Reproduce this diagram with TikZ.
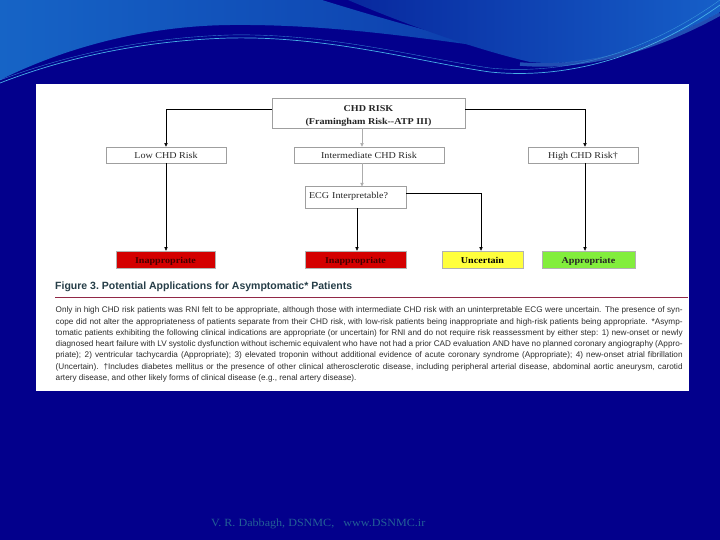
\documentclass[tikz,border=0pt]{standalone}
\usepackage{fontspec}
\setmainfont{Liberation Serif}
\setsansfont{Liberation Sans}
\newfontfamily\figfont[FakeStretch=1.12]{Liberation Serif}
\newfontfamily\footfont[FakeStretch=1.1]{Liberation Serif}
\usetikzlibrary{arrows.meta}
\definecolor{navy}{RGB}{3,0,140}
\definecolor{lightA}{RGB}{22,100,198}
\definecolor{lightB}{RGB}{12,60,172}
\definecolor{midA}{RGB}{8,40,158}
\definecolor{midB}{RGB}{22,95,200}
\definecolor{streak}{RGB}{70,175,230}
\definecolor{redbox}{RGB}{212,0,0}
\definecolor{redtext}{RGB}{70,0,0}
\definecolor{yelbox}{RGB}{255,255,60}
\definecolor{grnbox}{RGB}{130,238,60}
\definecolor{titlec}{RGB}{38,62,72}
\definecolor{rulec}{RGB}{145,40,70}
\definecolor{capc}{RGB}{45,45,45}
\definecolor{footc}{RGB}{35,95,150}
\begin{document}
\begin{tikzpicture}[x=1pt,y=-1pt,
  wbox/.style={draw=gray!75, line width=0.5pt, fill=white, inner sep=0pt,
    text=black!85, font=\figfont\fontsize{9}{13}\selectfont},
  obox/.style={draw=gray!60, line width=0.4pt, inner sep=0pt, minimum height=17pt,
    text height=7.6pt, text depth=0pt,
    font=\figfont\bfseries\fontsize{9}{10}\selectfont},
  arr/.style={-{Triangle[length=3.6pt,width=3.2pt]}, line width=0.6pt, draw=black},
  garr/.style={-{Triangle[length=3.6pt,width=3.2pt]}, line width=0.6pt, draw=gray!65},
  capline/.style={anchor=mid west, inner sep=0pt, text=capc,
    font=\sffamily\fontsize{8.2}{9}\selectfont}]
\useasboundingbox (0,0) rectangle (720,540);
% background
\fill[navy] (0,0) rectangle (720,540);
\shade[left color=lightA, right color=lightB]
  (0,0) -- (322,0) .. controls (380,18) and (450,38) .. (510,50)
  .. controls (420,38) and (330,24) .. (230,25)
  .. controls (140,26) and (60,50) .. (0,80) -- cycle;
\shade[left color=midA, right color=midB]
  (348,0) -- (720,0) -- (720,12) .. controls (660,45) and (590,68) .. (530,62)
  .. controls (470,48) and (400,22) .. (348,0) -- cycle;
\draw[line width=3.5pt, streak, opacity=0.45]
  (720,14) .. controls (660,47) and (590,70) .. (520,64);
\draw[line width=0.7pt, streak]
  (0,83) .. controls (80,52) and (160,40) .. (230,38)
  .. controls (330,36) and (420,62) .. (490,72)
  .. controls (570,80) and (650,55) .. (720,5);
\draw[line width=0.4pt, streak, opacity=0.7]
  (0,80) .. controls (80,50) and (160,37) .. (230,35)
  .. controls (330,33) and (420,58) .. (490,68)
  .. controls (570,76) and (650,50) .. (720,0);
% white panel
\fill[white] (36,84) rectangle (689,391);
% flowchart
\node[wbox, minimum width=193pt, minimum height=30pt,
  label={[align=center, inner sep=0pt, text=black!85, font=\figfont\bfseries\fontsize{9}{13}\selectfont, yshift=-3.5pt]center:{CHD RISK\\(Framingham Risk--ATP III)}}] (chd) at (368.5,113) {};
\node[wbox, minimum width=120pt, minimum height=16pt, text height=7pt, text depth=0pt] (low) at (166,155) {Low CHD Risk};
\node[wbox, minimum width=150pt, minimum height=16pt, text height=7pt, text depth=0pt] (inter) at (369,155) {Intermediate CHD Risk};
\node[wbox, minimum width=110pt, minimum height=16pt, text height=7pt, text depth=0pt] (high) at (583,155) {High CHD Risk\textdagger};
\node[wbox, minimum width=101pt, minimum height=21.5pt, text width=93pt, align=left,
  inner ysep=0pt] (ecg) at (355.5,197.5) {\raisebox{4pt}{ECG Interpretable?}};
\node[obox, fill=redbox, text=redtext, minimum width=99pt] (inap1) at (165.5,259.5) {Inappropriate};
\node[obox, fill=redbox, text=redtext, minimum width=101pt] (inap2) at (355.5,259.5) {Inappropriate};
\node[obox, fill=yelbox, text=black, minimum width=81pt] (unc) at (482.5,259.5) {Uncertain};
\node[obox, fill=grnbox, text=black!85, minimum width=93pt] (app) at (588.5,259.5) {Appropriate};
% connectors
\draw[arr] ([yshift=4pt]chd.west) -| (low.north);
\draw[arr] ([yshift=4pt]chd.east) -| ([xshift=2pt]high.north);
\draw[garr] ([xshift=-6.5pt]chd.south) -- ([xshift=-7pt]inter.north);
\draw[garr] ([xshift=-7pt]inter.south) -- ([xshift=6.5pt]ecg.north);
\draw[arr] (low.south) -- (low.south |- inap1.north);
\draw[arr] ([xshift=2pt]high.south) -- ([xshift=2pt]high.south |- app.north);
\draw[arr] ([xshift=1.5pt]ecg.south) -- ([xshift=1.5pt]inap2.north);
\draw[arr] ([yshift=4.5pt]ecg.east) -| ([xshift=-1.5pt]unc.north);
% title and rule
\node[anchor=base west, inner sep=0pt, text=titlec, font=\sffamily\bfseries\fontsize{10.5}{12}\selectfont]
  (title) at (55,289) {Figure 3.\ Potential Applications for Asymptomatic* Patients};
\coordinate (rl) at (55,297.5);
\coordinate (rr) at (688,297.5);
\draw[rulec, line width=0.8pt] (rl) -- (rr);
% caption
\node[capline] (c1) at (55.5,310.5) {\makebox[627pt][s]{Only in high CHD risk patients was RNI felt to be appropriate, although those with intermediate CHD risk with an uninterpretable ECG were uncertain. The presence of syn-}};
\node[capline] (c2) at (55.5,321.75) {\makebox[627pt][s]{cope did not alter the appropriateness of patients separate from their CHD risk, with low-risk patients being inappropriate and high-risk patients being appropriate. *Asymp-}};
\node[capline] (c3) at (55.5,333) {\makebox[627pt][s]{tomatic patients exhibiting the following clinical indications are appropriate (or uncertain) for RNI and do not require risk reassessment by either step: 1) new-onset or newly}};
\node[capline] (c4) at (55.5,344.25) {\makebox[627pt][s]{diagnosed heart failure with LV systolic dysfunction without ischemic equivalent who have not had a prior CAD evaluation AND have no planned coronary angiography (Appro-}};
\node[capline] (c5) at (55.5,355.5) {\makebox[627pt][s]{priate); 2) ventricular tachycardia (Appropriate); 3) elevated troponin without additional evidence of acute coronary syndrome (Appropriate); 4) new-onset atrial fibrillation}};
\node[capline] (c6) at (55.5,366.75) {\makebox[627pt][s]{(Uncertain). \textdagger Includes diabetes mellitus or the presence of other clinical atherosclerotic disease, including peripheral arterial disease, abdominal aortic aneurysm, carotid}};
\node[capline] (c7) at (55.5,378) {artery disease, and other likely forms of clinical disease (e.g., renal artery disease).};
% footer
\node[anchor=base west, inner sep=0pt, text=footc, font=\footfont\fontsize{11}{12}\selectfont]
  (foot) at (211,526) {V. R. Dabbagh, DSNMC,\ \ \ www.DSNMC.ir};
\end{tikzpicture}
\end{document}
